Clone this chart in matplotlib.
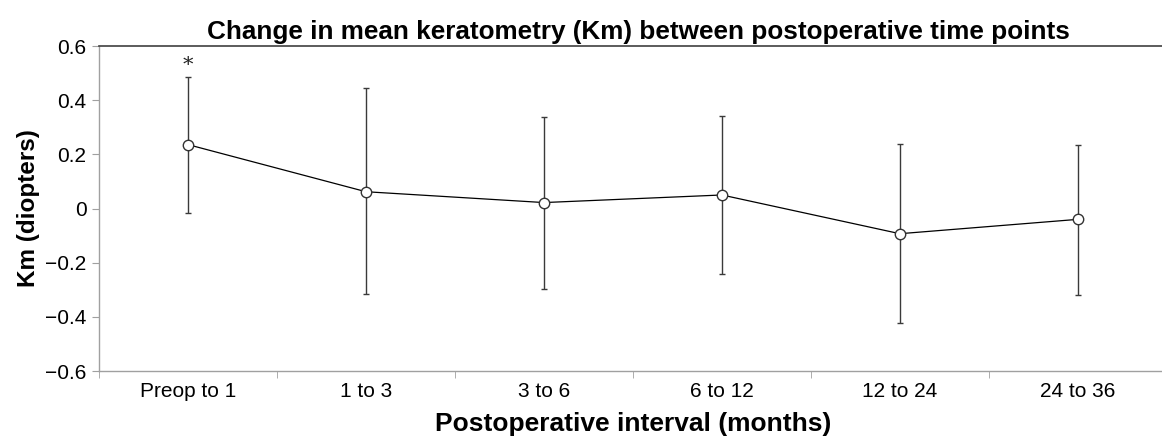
import numpy as np
import matplotlib.pyplot as plt
from matplotlib.ticker import FixedLocator

plt.rcParams['font.family'] = ['Liberation Sans', 'DejaVu Sans']

intervals = ['Preop to 1', '1 to 3', '3 to 6', '6 to 12', '12 to 24', '24 to 36']
km_mean = [0.236, 0.062, 0.022, 0.050, -0.093, -0.040]
km_upper = [0.487, 0.446, 0.338, 0.342, 0.238, 0.236]
km_lower = [-0.018, -0.315, -0.298, -0.243, -0.424, -0.318]

x = np.arange(len(intervals))
mean = np.array(km_mean)
err = [mean - np.array(km_lower), np.array(km_upper) - mean]

fig = plt.figure(figsize=(11.62, 4.43), dpi=100)
ax = fig.add_axes([0.0852, 0.1625, 0.919, 0.7336])

ax.errorbar(x, mean, yerr=err, fmt='none', ecolor='#3a3a3a', elinewidth=1.0,
            capsize=2.5, capthick=1.0, zorder=2)
ax.plot(x, mean, color='black', lw=0.9, marker='o', markersize=7.5,
        markerfacecolor='white', markeredgecolor='#333333', markeredgewidth=1.0, zorder=3)

# significance marker
ax.text(x[0], km_upper[0] + 0.005, '*', ha='center', va='bottom', fontsize=15,
        family='DejaVu Serif', color='#222222')

ax.set_xlim(-0.5, len(intervals) - 0.5)
ax.set_ylim(-0.6, 0.6)
ax.set_yticks(np.arange(-0.6, 0.61, 0.2))
ax.set_yticklabels(['\u22120.6', '\u22120.4', '\u22120.2', '0', '0.2', '0.4', '0.6'])
ax.set_xticks(x)
ax.set_xticklabels(intervals)
ax.xaxis.set_minor_locator(FixedLocator(np.arange(-0.5, len(intervals), 1.0)))
ax.tick_params(axis='x', which='major', length=0, labelsize=15, pad=8)
ax.tick_params(axis='x', which='minor', length=5, color='#a0a0a0', direction='out')
ax.tick_params(axis='y', length=5, color='#a0a0a0', labelsize=15, pad=4)

for s in ['left', 'bottom']:
    ax.spines[s].set_color('#a0a0a0')
    ax.spines[s].set_linewidth(1.0)
ax.spines['top'].set_color('#404040')
ax.spines['top'].set_linewidth(1.2)
ax.spines['right'].set_visible(False)

ax.set_title('Change in mean keratometry (Km) between postoperative time points',
             fontsize=18.8, fontweight='bold', pad=5, x=0.505)
ax.set_xlabel('Postoperative interval (months)', fontsize=19, fontweight='bold', labelpad=8)
ax.set_ylabel('Km (diopters)', fontsize=17.5, fontweight='bold', labelpad=4)

fig.savefig('out.png', dpi=100)
